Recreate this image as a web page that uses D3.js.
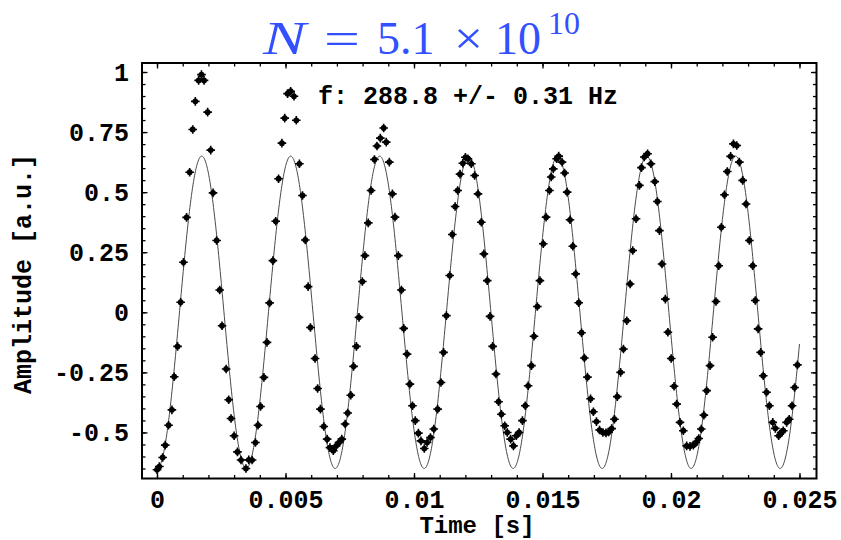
<!DOCTYPE html>
<html>
<head>
<meta charset="utf-8">
<script src="https://cdn.jsdelivr.net/npm/d3@7"></script>
<style>
  html, body { margin: 0; padding: 0; background: #ffffff; }
  svg { display: block; }
</style>
</head>
<body>
<svg id="chart" width="841" height="540"></svg>
<script>
// ---------------- data ----------------
// sample times (milliseconds)
const timeMs = [
  0.00, 0.09, 0.22, 0.32, 0.45, 0.58, 0.67, 0.80, 0.92, 1.03,
  1.15, 1.27, 1.39, 1.49, 1.62, 1.73, 1.83, 1.97, 2.09, 2.18,
  2.32, 2.44, 2.53, 2.69, 2.79, 2.88, 3.00, 3.13, 3.27, 3.46,
  3.57, 3.70, 3.83, 3.93, 4.03, 4.16, 4.28, 4.38, 4.51, 4.62,
  4.73, 4.86, 4.97, 5.08, 5.20, 5.33, 5.42, 5.54, 5.66, 5.77,
  5.88, 5.97, 6.15, 6.25, 6.36, 6.49, 6.62, 6.73, 6.86, 6.97,
  7.08, 7.19, 7.32, 7.42, 7.54, 7.65, 7.76, 7.86, 7.99, 8.09,
  8.22, 8.33, 8.46, 8.56, 8.69, 8.82, 8.92, 9.04, 9.16, 9.26,
  9.39, 9.51, 9.60, 9.73, 9.84, 9.94, 10.05, 10.17, 10.27, 10.40,
  10.51, 10.64, 10.77, 10.92, 11.05, 11.15, 11.26, 11.39, 11.49, 11.60,
  11.70, 11.79, 11.90, 12.00, 12.10, 12.23, 12.36, 12.49, 12.62, 12.72,
  12.85, 12.96, 13.06, 13.19, 13.29, 13.40, 13.53, 13.63, 13.76, 13.87,
  13.98, 14.09, 14.22, 14.33, 14.44, 14.57, 14.67, 14.80, 14.90, 15.03,
  15.14, 15.27, 15.34, 15.42, 15.55, 15.63, 15.76, 15.86, 15.96, 16.07,
  16.18, 16.29, 16.41, 16.52, 16.63, 16.75, 16.87, 16.98, 17.10, 17.22,
  17.35, 17.47, 17.58, 17.69, 17.80, 17.91, 18.04, 18.15, 18.28, 18.41,
  18.51, 18.64, 18.77, 18.85, 18.96, 19.09, 19.22, 19.37, 19.47, 19.55,
  19.65, 19.78, 19.88, 20.01, 20.12, 20.22, 20.35, 20.48, 20.61, 20.74,
  20.87, 20.97, 21.08, 21.18, 21.28, 21.39, 21.52, 21.62, 21.75, 21.86,
  21.96, 22.08, 22.19, 22.32, 22.43, 22.56, 22.66, 22.79, 22.92, 23.05,
  23.18, 23.28, 23.39, 23.49, 23.59, 23.72, 23.83, 23.96, 24.06, 24.19,
  24.29, 24.37, 24.50, 24.60, 24.71, 24.81, 24.92
];
// measured amplitude (a.u.)
const amplitude = [
  -0.655, -0.642, -0.604, -0.553, -0.470, -0.406, -0.268, -0.142, 0.042, 0.208,
  0.395, 0.583, 0.761, 0.878, 0.965, 0.989, 0.965, 0.833, 0.675, 0.497,
  0.299, 0.093, -0.056, -0.236, -0.364, -0.442, -0.514, -0.581, -0.615, -0.650,
  -0.614, -0.615, -0.542, -0.470, -0.392, -0.271, -0.125, 0.039, 0.215, 0.379,
  0.556, 0.704, 0.808, 0.910, 0.920, 0.899, 0.799, 0.618, 0.486, 0.301,
  0.107, -0.063, -0.192, -0.317, -0.403, -0.475, -0.528, -0.563, -0.576, -0.556,
  -0.542, -0.528, -0.465, -0.419, -0.345, -0.225, -0.142, -0.021, 0.128, 0.236,
  0.372, 0.507, 0.636, 0.692, 0.725, 0.767, 0.708, 0.625, 0.493, 0.396,
  0.236, 0.093, -0.067, -0.174, -0.299, -0.389, -0.451, -0.503, -0.535, -0.567,
  -0.542, -0.521, -0.486, -0.403, -0.292, -0.167, -0.014, 0.153, 0.324, 0.440,
  0.507, 0.575, 0.620, 0.645, 0.639, 0.618, 0.569, 0.493, 0.375, 0.243,
  0.132, -0.017, -0.142, -0.257, -0.372, -0.424, -0.472, -0.500, -0.528, -0.556,
  -0.514, -0.500, -0.451, -0.389, -0.306, -0.222, -0.100, 0.024, 0.132, 0.285,
  0.396, 0.507, 0.563, 0.597, 0.639, 0.650, 0.625, 0.580, 0.500, 0.385,
  0.275, 0.160, 0.040, -0.085, -0.190, -0.270, -0.360, -0.414, -0.455, -0.490,
  -0.500, -0.502, -0.498, -0.484, -0.445, -0.351, -0.250, -0.153, -0.035, 0.118,
  0.257, 0.389, 0.528, 0.602, 0.646, 0.660, 0.618, 0.544, 0.461, 0.340,
  0.201, 0.055, -0.083, -0.192, -0.308, -0.382, -0.458, -0.493, -0.556, -0.558,
  -0.553, -0.542, -0.525, -0.486, -0.428, -0.326, -0.222, -0.104, 0.045, 0.194,
  0.354, 0.489, 0.586, 0.649, 0.701, 0.694, 0.625, 0.549, 0.451, 0.299,
  0.194, 0.049, -0.069, -0.167, -0.264, -0.333, -0.389, -0.458, -0.483, -0.514,
  -0.500, -0.493, -0.458, -0.445, -0.389, -0.313, -0.219
];
// fitted model: [frequency (Hz), amplitude (a.u.), time of first maximum (s)]
const fitParams = [288.8, 0.65, 0.00174];
const fitRange = [0, 0.025];

const xTickValues = [0, 0.005, 0.01, 0.015, 0.02, 0.025];
const xTickLabels = ["0", "0.005", "0.01", "0.015", "0.02", "0.025"];
const yTickValues = [-0.5, -0.25, 0, 0.25, 0.5, 0.75, 1];
const yTickLabels = ["-0.5", "-0.25", "0", "0.25", "0.5", "0.75", "1"];

const titleText = ["N", "=", "5.1", "\u00D7", "10", "10"];
const fitLabel = "f: 288.8 +/- 0.31 Hz";
const xTitle = "Time [s]";
const yTitle = "Amplitude [a.u.]";

// ---------------- layout ----------------
const svg = d3.select("#chart");
const frame = { left: 142, right: 816.5, top: 63, bottom: 478.5 };

const x = d3.scaleLinear().domain([-0.000584, 0.025662]).range([frame.left, frame.right]);
const y = d3.scaleLinear().domain([-0.6917, 1.0375]).range([frame.bottom, frame.top]);

const monoFont = "'Liberation Mono', 'DejaVu Sans Mono', monospace";

// fit curve
const fitT = d3.range(fitRange[0], fitRange[1] + 1e-9, 0.00002);
const fitLine = d3.line()
  .x(t => x(t))
  .y(t => y(fitParams[1] * Math.cos(2 * Math.PI * fitParams[0] * (t - fitParams[2]))));

svg.append("clipPath").attr("id", "plotclip")
  .append("rect")
  .attr("x", frame.left).attr("y", frame.top)
  .attr("width", frame.right - frame.left).attr("height", frame.bottom - frame.top);

const plot = svg.append("g").attr("clip-path", "url(#plotclip)");

plot.append("path")
  .datum(fitT)
  .attr("d", fitLine)
  .attr("fill", "none")
  .attr("stroke", "#4a4a4a")
  .attr("stroke-width", 1);

// data markers
const pts = timeMs.map((t, i) => ({ t: t / 1000, v: amplitude[i] }));
const marks = plot.selectAll("g.pt").data(pts).enter().append("g")
  .attr("class", "pt")
  .attr("transform", d => `translate(${x(d.t)},${y(d.v)})`);
marks.append("circle").attr("r", 2.9).attr("fill", "#000");
marks.append("path").attr("d", "M-4.3,0H4.3M0,-4.3V4.3")
  .attr("stroke", "#000").attr("stroke-width", 1.6);

// ---------------- frame axes ----------------
const xMinor = d3.range(0, 0.02501, 0.001);
const yMinor = d3.range(-0.65, 1.0001, 0.05);
const majorLen = 5.5, minorLen = 3.5;

function styleAxis(g) {
  g.selectAll("path.domain").remove();
  g.selectAll("line").attr("stroke", "#000").attr("stroke-width", 1.3);
}

// bottom
svg.append("g").attr("transform", `translate(0,${frame.bottom})`)
  .call(d3.axisBottom(x).tickValues(xMinor).tickSize(-minorLen).tickFormat(""))
  .call(styleAxis);
const bottomMajor = svg.append("g").attr("transform", `translate(0,${frame.bottom})`)
  .call(d3.axisBottom(x).tickValues(xTickValues).tickSize(-majorLen).tickPadding(12)
    .tickFormat((d, i) => xTickLabels[i]))
  .call(styleAxis);
bottomMajor.selectAll("text")
  .attr("font-family", monoFont).attr("font-size", 25).attr("font-weight", "bold")
  .attr("fill", "#000").attr("dy", "0.71em");

// top
svg.append("g").attr("transform", `translate(0,${frame.top})`)
  .call(d3.axisTop(x).tickValues(xMinor).tickSize(-minorLen).tickFormat(""))
  .call(styleAxis);
svg.append("g").attr("transform", `translate(0,${frame.top})`)
  .call(d3.axisTop(x).tickValues(xTickValues).tickSize(-majorLen).tickFormat(""))
  .call(styleAxis);

// left
svg.append("g").attr("transform", `translate(${frame.left},0)`)
  .call(d3.axisLeft(y).tickValues(yMinor).tickSize(-minorLen).tickFormat(""))
  .call(styleAxis);
const leftMajor = svg.append("g").attr("transform", `translate(${frame.left},0)`)
  .call(d3.axisLeft(y).tickValues(yTickValues).tickSize(-majorLen).tickPadding(13)
    .tickFormat((d, i) => yTickLabels[i]))
  .call(styleAxis);
leftMajor.selectAll("text")
  .attr("font-family", monoFont).attr("font-size", 25).attr("font-weight", "bold")
  .attr("fill", "#000");

// right
svg.append("g").attr("transform", `translate(${frame.right},0)`)
  .call(d3.axisRight(y).tickValues(yMinor).tickSize(-minorLen).tickFormat(""))
  .call(styleAxis);
svg.append("g").attr("transform", `translate(${frame.right},0)`)
  .call(d3.axisRight(y).tickValues(yTickValues).tickSize(-majorLen).tickFormat(""))
  .call(styleAxis);

// frame box
svg.append("rect")
  .attr("x", frame.left).attr("y", frame.top)
  .attr("width", frame.right - frame.left).attr("height", frame.bottom - frame.top)
  .attr("fill", "none").attr("stroke", "#000").attr("stroke-width", 2);

// axis titles
svg.append("text")
  .attr("x", 477).attr("y", 533)
  .attr("text-anchor", "middle")
  .attr("font-family", monoFont).attr("font-size", 24).attr("font-weight", "bold")
  .text(xTitle);

svg.append("text")
  .attr("transform", "translate(31,274) rotate(-90)")
  .attr("text-anchor", "middle")
  .attr("font-family", monoFont).attr("font-size", 25).attr("font-weight", "bold")
  .text(yTitle);

// fit annotation
svg.append("text")
  .attr("x", 318).attr("y", 104)
  .attr("font-family", monoFont).attr("font-size", 25).attr("font-weight", "bold")
  .attr("fill", "#000")
  .text(fitLabel);

// title  N = 5.1 x 10^10
const titleColor = "#3350ff";
const serif = "'Liberation Serif', 'DejaVu Serif', serif";
const tg = svg.append("g").attr("fill", titleColor).attr("font-family", serif);
const titleX = [263, 324, 377, 454, 495, 548];
const titleW = [43, 36, null, 29, null, null];
titleText.forEach((s, i) => {
  const t = tg.append("text")
    .attr("x", titleX[i])
    .attr("y", i === 5 ? 34 : 54)
    .attr("font-size", i === 5 ? 32 : 46)
    .text(s);
  if (i === 0) t.attr("font-style", "italic");
  if (titleW[i]) t.attr("textLength", titleW[i]).attr("lengthAdjust", "spacingAndGlyphs");
});
</script>
</body>
</html>
